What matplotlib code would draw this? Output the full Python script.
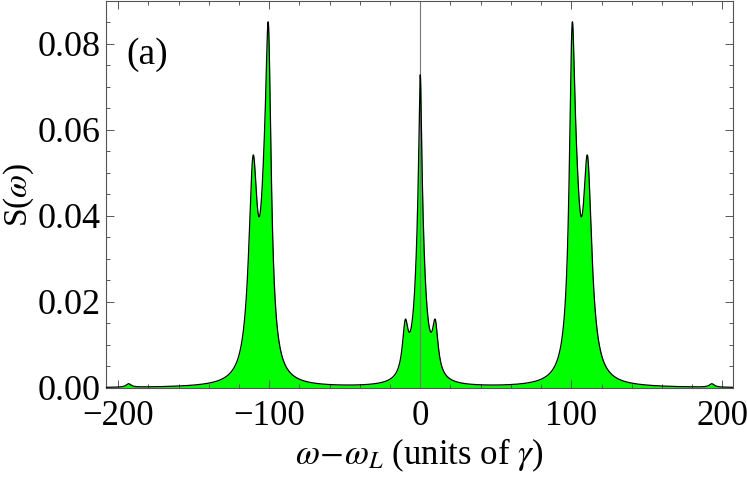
import matplotlib
matplotlib.use("Agg")
import matplotlib.pyplot as plt
import numpy as np
from matplotlib.ticker import MultipleLocator, FormatStrFormatter

# Lorentzian components of the spectrum
peak_centers = [-193.0, -110.70, -103.20, -100.49, -9.93, 0.0, 0.0, 9.93, 100.49, 103.20, 110.70, 193.0]
peak_heights = [0.0008, 0.04649, 0.02406, 0.06439, 0.01091, 0.03072, 0.04086, 0.01091, 0.06439, 0.02406,
                0.04649, 0.0008]
peak_widths = [2.0, 3.466, 3.609, 2.234, 2.233, 1.05, 3.424, 2.233, 2.234, 3.609, 3.466, 2.0]

x_ticks = [-200, -100, 0, 100, 200]
y_ticks = [0.00, 0.02, 0.04, 0.06, 0.08]


def spectrum(w):
    s = np.zeros_like(w)
    for c, a, g in zip(peak_centers, peak_heights, peak_widths):
        s += a * g**2 / ((w - c) ** 2 + g**2)
    return s


def main() -> None:
    plt.rcParams["font.family"] = ["Liberation Serif", "DejaVu Serif"]
    plt.rcParams["mathtext.fontset"] = "stix"

    fig = plt.figure(figsize=(7.47, 4.80), dpi=100)
    ax = fig.add_axes([0.1419, 0.1917, 0.8394, 0.8063])

    w = np.linspace(-208, 207, 8000)
    s = spectrum(w)
    ax.fill_between(w, 0, s, color="#00ff00", lw=0, zorder=1)
    ax.plot(w, s, color="black", lw=0.9, zorder=3)
    ax.axvline(0, color="#777777", lw=0.8, zorder=2)

    ax.set_xlim(-208, 207)
    ax.set_ylim(0, 0.09)
    ax.set_xticks(x_ticks)
    ax.set_yticks(y_ticks)
    ax.xaxis.set_minor_locator(MultipleLocator(20))
    ax.yaxis.set_minor_locator(MultipleLocator(0.005))
    ax.yaxis.set_major_formatter(FormatStrFormatter("%.2f"))
    ax.tick_params(which="both", direction="in", top=True, right=True, color="#555555", width=0.7)
    ax.tick_params(which="major", length=5.5)
    ax.tick_params(which="minor", length=3)
    ax.tick_params(axis="x", which="major", pad=9, labelsize=25)
    ax.tick_params(axis="y", which="major", pad=4, labelsize=26)
    for sp in ax.spines.values():
        sp.set_color("#555555")
        sp.set_linewidth(0.8)

    ax.set_xlabel(r"$\omega\!-\!\omega_L$ (units of $\gamma$)", fontsize=25, labelpad=2)
    fig.text(19 / 747, 1 - 195 / 480, r"S($\omega$)", rotation=90, fontsize=24, ha="center", va="center")
    ax.text(0.033, 0.86, "(a)", transform=ax.transAxes, fontsize=27, ha="left", va="center")

    fig.savefig("out.png", dpi=100)


if __name__ == "__main__":
    main()
